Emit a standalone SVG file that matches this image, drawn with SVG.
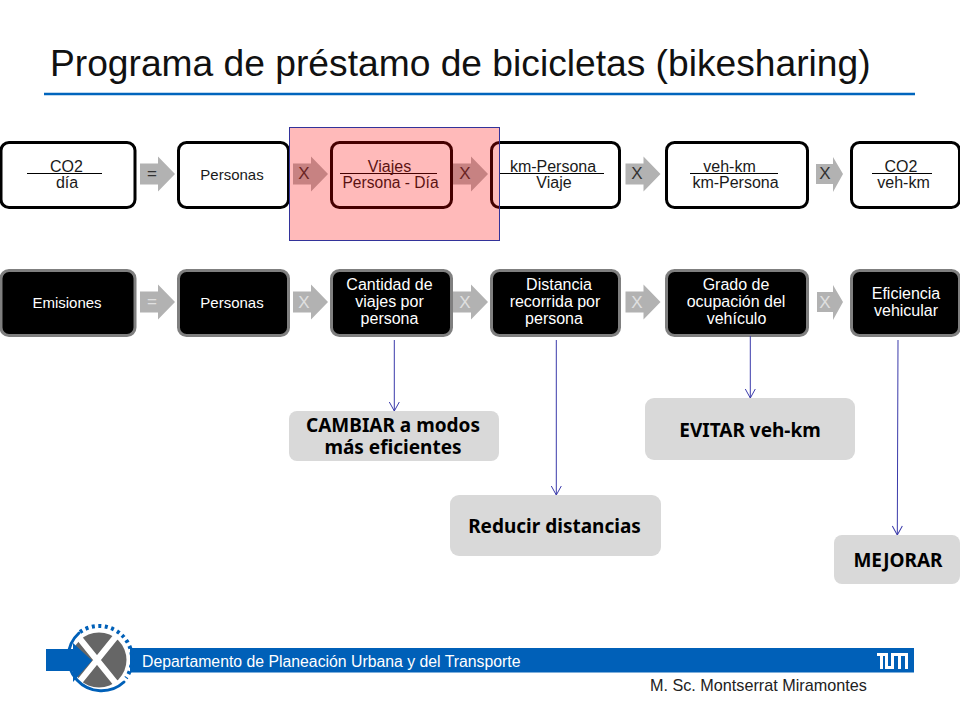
<svg xmlns="http://www.w3.org/2000/svg" width="960" height="720" viewBox="0 0 960 720">
<style>
text{font-family:"Liberation Sans",Arial,sans-serif}
.n{fill:#fff;stroke:#000;stroke-width:3}
.k{fill:#000;stroke:#7f7f7f;stroke-width:3}
.t{font-size:16px;fill:#1a1a1a;text-anchor:middle}
.w{font-size:16px;fill:#fff;text-anchor:middle}
.s{font-size:15px}
.f{stroke:#000;stroke-width:1;fill:none}
.a{fill:#b2b2b2}
.x{font-size:17px;fill:#333;text-anchor:middle}
.y{font-size:17px;fill:#e0e0e0;text-anchor:middle}
.c{fill:#d9d9d9}
.b{font-family:"Noto Sans",sans-serif;font-weight:700;font-size:19px;fill:#000;text-anchor:middle}
.l{stroke:#3a3aaa;stroke-width:1;fill:none;marker-end:url(#h)}
</style>
<defs>
<marker id="h" markerUnits="userSpaceOnUse" markerWidth="12" markerHeight="12" refX="10" refY="6" orient="auto"><path d="M1 1L10 6L1 11" fill="none" stroke="#3a3aaa" stroke-width="1"/></marker>
<path id="arr" d="M0-10.500H18V-17.500L35 0L18 17.500V10.500H0Z"/>
</defs>
<rect width="960" height="720" fill="#fff"/>
<text id="title" x="50" y="76" font-size="37.200" fill="#111">Programa de préstamo de bicicletas (bikesharing)</text>
<line x1="44" y1="94" x2="915" y2="94" stroke="#0065bd" stroke-width="2.500"/>

<g id="row1-arrows">
<use href="#arr" x="140" y="174" class="a"/><use href="#arr" x="293" y="174" class="a"/><use href="#arr" x="453" y="174" class="a"/><use href="#arr" x="625.500" y="174" class="a"/><path class="a" d="M816 164H833V157L843 174L833 192V184H816Z"/>
<text class="x s" x="152" y="179">=</text><text class="x" x="304" y="179">X</text><text class="x" x="465" y="179">X</text><text class="x" x="637" y="179">X</text><text class="x" x="825" y="179">X</text>
</g>
<g id="n1"><rect class="n" x="1" y="142.500" width="134" height="65" rx="8"/><line class="f" x1="27" y1="173.500" x2="102" y2="173.500"/><text class="t" x="66.500" y="171.500">CO2</text><text class="t" x="67" y="188">día</text></g>
<g id="n2"><rect class="n" x="178.500" y="142.500" width="110" height="65" rx="8"/><text class="t s" x="232" y="180">Personas</text></g>
<g id="n3"><rect class="n" x="331.500" y="142.500" width="120" height="65" rx="8"/><line class="f" x1="340" y1="173.500" x2="437" y2="173.500"/><text class="t" x="389.500" y="171.500">Viajes</text><text class="t" x="390.500" y="188" font-size="15.600" style="font-size:15.600px">Persona - Día</text></g>
<g id="n4"><rect class="n" x="491.500" y="142.500" width="128" height="65" rx="8"/><line class="f" x1="500" y1="173.500" x2="604" y2="173.500"/><text class="t" x="553" y="171.500">km-Persona</text><text class="t" x="554" y="188">Viaje</text></g>
<g id="n5"><rect class="n" x="666.500" y="142.500" width="141" height="65" rx="8"/><line class="f" x1="690" y1="173.500" x2="778" y2="173.500"/><text class="t" x="729.500" y="171.500">veh-km</text><text class="t" x="735.500" y="188">km-Persona</text></g>
<g id="n6"><rect class="n" x="851.500" y="142.500" width="108" height="65" rx="8"/><line class="f" x1="872" y1="173.500" x2="932" y2="173.500"/><text class="t" x="901" y="171.500">CO2</text><text class="t" x="903.500" y="188">veh-km</text></g>
<rect id="highlight" x="289.500" y="127.500" width="210" height="113" fill="#ff0000" fill-opacity=".27" stroke="#33339a" stroke-width="1"/>

<g id="row2-arrows">
<use href="#arr" x="140" y="302" class="a"/><use href="#arr" x="293" y="302" class="a"/><use href="#arr" x="453" y="302" class="a"/><use href="#arr" x="625.500" y="302" class="a"/><path class="a" d="M817 292H833V285L843 302L833 320V312H817Z"/>
<text class="y s" x="152" y="307">=</text><text class="y" x="304" y="308">X</text><text class="y" x="465" y="308">X</text><text class="y" x="637" y="308">X</text><text class="y" x="825" y="308">X</text>
</g>
<g id="m1"><rect class="k" x="1" y="270.500" width="134" height="65" rx="8"/><text class="w s" x="67" y="308">Emisiones</text></g>
<g id="m2"><rect class="k" x="178.500" y="270.500" width="110" height="65" rx="8"/><text class="w s" x="232" y="308">Personas</text></g>
<g id="m3"><rect class="k" x="331.500" y="270.500" width="120" height="65" rx="8"/><text class="w" x="389.500" y="290">Cantidad de</text><text class="w" x="389.500" y="307">viajes por</text><text class="w" x="389.500" y="324">persona</text></g>
<g id="m4"><rect class="k" x="491.500" y="270.500" width="128" height="65" rx="8"/><text class="w" x="559" y="290">Distancia</text><text class="w" x="555" y="307">recorrida por</text><text class="w" x="554" y="324">persona</text></g>
<g id="m5"><rect class="k" x="666.500" y="270.500" width="141" height="65" rx="8"/><text class="w" x="736" y="290">Grado de</text><text class="w" x="736" y="307">ocupación del</text><text class="w" x="736.500" y="324">vehículo</text></g>
<g id="m6"><rect class="k" x="851.500" y="270.500" width="108" height="65" rx="8"/><text class="w" x="906" y="299">Eficiencia</text><text class="w" x="906" y="316">vehicular</text></g>

<g id="connectors">
<line class="l" x1="394.300" y1="340" x2="394.300" y2="411"/>
<line class="l" x1="556.300" y1="340" x2="556.300" y2="495"/>
<line class="l" x1="750.300" y1="336" x2="750.300" y2="398"/>
<line class="l" x1="898" y1="340" x2="897.300" y2="535"/>
</g>
<g id="c1"><rect class="c" x="289" y="411" width="210" height="50" rx="8"/><text class="b" x="393" y="431.500">CAMBIAR a modos</text><text class="b" x="393" y="454">más eficientes</text></g>
<g id="c2"><rect class="c" x="450" y="495" width="211" height="61" rx="9"/><text class="b" x="554.500" y="533">Reducir distancias</text></g>
<g id="c3"><rect class="c" x="645" y="398" width="210" height="62" rx="9"/><text class="b" x="750" y="437">EVITAR veh-km</text></g>
<g id="c4"><rect class="c" x="834" y="535" width="126" height="49" rx="8"/><text class="b" x="898" y="567">MEJORAR</text></g>

<g id="footer">
<rect x="130" y="648" width="784" height="24.500" fill="#0060b8"/>
<text x="142" y="667" font-size="15.800" fill="#fff">Departamento de Planeación Urbana y del Transporte</text>
<g fill="#fff"><rect x="877" y="653" width="9" height="3"/><rect x="880" y="653" width="3" height="16"/><rect x="885" y="653" width="3" height="16"/><rect x="885" y="666" width="9" height="3"/><rect x="891" y="653" width="3" height="16"/><rect x="891" y="653" width="17" height="3"/><rect x="898" y="653" width="3" height="16"/><rect x="905" y="653" width="3" height="16"/></g>
<text x="650" y="691" font-size="16.200" fill="#222">M. Sc. Montserrat Miramontes</text>
<g id="logo">
<circle cx="99" cy="660" r="27.500" fill="#666"/>
<path d="M76 634L118 686M118 634L76 686" stroke="#fff" stroke-width="6" fill="none"/>
<path d="M79 633A33 33 0 1 0 124 682" stroke="#0060b8" stroke-width="3" fill="none" stroke-linecap="round"/>
<path d="M80 632A33 33 0 0 1 126 678" stroke="#0060b8" stroke-width="4" stroke-dasharray="3 3.500" fill="none"/>
<path d="M46 649H73V643L92 660.500L73 682V671H46Z" fill="#0060b8"/>
</g>
</g>
</svg>
